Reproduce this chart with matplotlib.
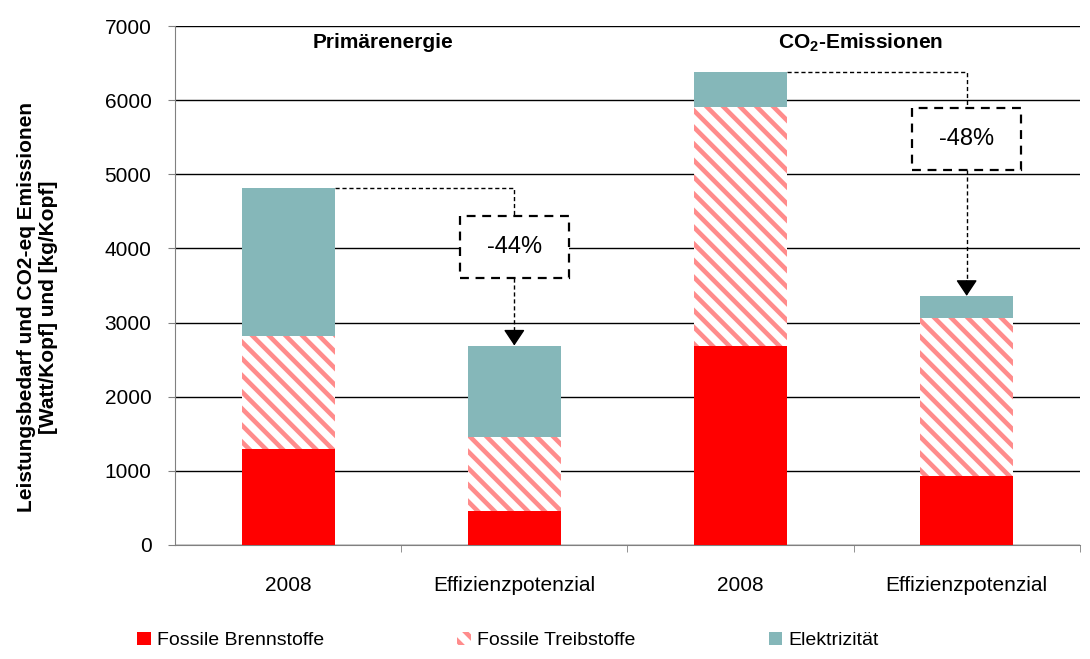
import matplotlib
matplotlib.use("Agg")
import matplotlib.pyplot as plt
from matplotlib.patches import Rectangle
import numpy as np

# Daten
kategorien = ["2008", "Effizienzpotenzial", "2008", "Effizienzpotenzial"]
brennstoffe = [1300, 460, 2680, 930]
treibstoffe = [1520, 1000, 3230, 2130]
elektrizitaet = [2000, 1230, 470, 300]
gruppen_titel = ["Primärenergie", r"CO$_{\mathbf{2}}$-Emissionen"]
reduktion = ["-44%", "-48%"]
y_ticks = [0, 1000, 2000, 3000, 4000, 5000, 6000, 7000]

plt.rcParams["font.family"] = ["Liberation Sans", "DejaVu Sans"]
plt.rcParams["mathtext.fontset"] = "custom"
plt.rcParams["mathtext.rm"] = "Liberation Sans"
plt.rcParams["mathtext.bf"] = "Liberation Sans:bold"
plt.rcParams["hatch.linewidth"] = 3.3
plt.rcParams["hatch.color"] = "#FF8C8C"

c_rot = "#FF0000"
c_hatch = "#FF8C8C"
c_teal = "#85B7B9"

fig = plt.figure(figsize=(10.9, 6.59), dpi=100)
ax = fig.add_axes([0.1606, 0.173, 0.830, 0.7875])

x = np.arange(len(kategorien))
w = 0.41
b1 = np.array(brennstoffe)
b2 = b1 + np.array(treibstoffe)
gesamt = b2 + np.array(elektrizitaet)

ax.bar(x, brennstoffe, w, color=c_rot, label="Fossile Brennstoffe", zorder=3)
ax.bar(x, treibstoffe, w, bottom=b1, facecolor="white", edgecolor=c_hatch,
       hatch="\\\\", linewidth=0, label="Fossile Treibstoffe", zorder=3)
ax.bar(x, elektrizitaet, w, bottom=b2, color=c_teal, label="Elektrizität", zorder=3)

ax.set_xlim(-0.5, 3.5)
ax.set_ylim(0, 7000)
ax.set_yticks(y_ticks)
ax.set_xticks(x)
ax.set_xticklabels(kategorien, fontsize=15)
ax.set_xticks([0.5, 1.5, 2.5, 3.5], minor=True)
ax.tick_params(axis="x", which="major", length=0, pad=22)
ax.tick_params(axis="x", which="minor", length=5, direction="out", color="#808080")
ax.tick_params(axis="y", labelsize=15, length=5, direction="out", color="#808080", pad=12)
ax.yaxis.grid(True, color="black", linewidth=1.0)
ax.set_axisbelow(True)
for s in ["top", "right"]:
    ax.spines[s].set_visible(False)
ax.spines["left"].set_color("#808080")
ax.spines["bottom"].set_color("#808080")

fig.text(38 / 1090, 1 - 307 / 659,
         "Leistungsbedarf und CO2-eq Emissionen\n[Watt/Kopf] und [kg/Kopf]",
         rotation=90, ha="center", va="center", fontsize=15, fontweight="bold",
         multialignment="center")

# Gruppentitel
ax.text(0.42, 6780, gruppen_titel[0], ha="center", va="center", fontsize=15, fontweight="bold")
ax.text(2.53, 6780, gruppen_titel[1], ha="center", va="center", fontsize=15, fontweight="bold")

# Reduktions-Pfeile mit gestrichelten Boxen
boxen = [(0, 1, 3600, 4440), (2, 3, 5060, 5900)]
for (i, j, unten, oben), txt in zip(boxen, reduktion):
    ax.plot([x[i] + w / 2, x[j], x[j]], [gesamt[i], gesamt[i], oben],
            color="black", linestyle=(0, (3, 2)), linewidth=1.0, zorder=4)
    ax.add_patch(Rectangle((x[j] - 0.24, unten), 0.48, oben - unten, facecolor="white",
                           edgecolor="black", linestyle=(0, (4, 3)), linewidth=1.6, zorder=4))
    ax.text(x[j], (unten + oben) / 2, txt, ha="center", va="center", fontsize=17, zorder=5)
    ax.plot([x[j], x[j]], [unten, gesamt[j] + 150], color="black",
            linestyle=(0, (3, 2)), linewidth=1.0, zorder=4)
    ax.annotate("", xy=(x[j], gesamt[j]), xytext=(x[j], gesamt[j] + 200),
                arrowprops=dict(arrowstyle="-|>,head_length=0.45,head_width=0.3",
                                color="black", linewidth=1.0, mutation_scale=22,
                                shrinkA=0, shrinkB=0),
                zorder=5)

fig.legend(loc="lower left", bbox_to_anchor=(0.11, -0.012, 0.712, 0.05), mode="expand", ncol=3,
           frameon=False, fontsize=14, handlelength=0.7, handleheight=0.7, handletextpad=0.3)

fig.savefig("out.png", dpi=100)
